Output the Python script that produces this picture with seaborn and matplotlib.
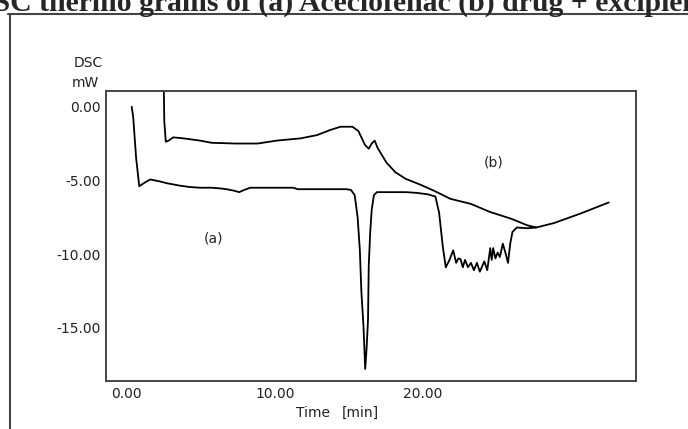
"""
DSC thermograms: (a) Aceclofenac, (b) drug + excipient.
"""
import numpy as np
import matplotlib
matplotlib.use("Agg")
import matplotlib.pyplot as plt
import matplotlib.transforms as mtransforms
from matplotlib.lines import Line2D
import seaborn as sns

# ── data ────────────────────────────────────────────────────────────────────
time_a = [0.0, 0.1, 0.3, 0.51, 0.8, 1.24, 1.8, 2.4, 3.2, 3.9,
          4.6, 5.4, 6.0, 6.4, 6.9, 7.25, 7.6, 8.0, 9.0, 10.9,
          11.2, 12.5, 13.5, 14.5, 14.8, 15.05, 15.25, 15.4, 15.5, 15.65,
          15.76, 15.85, 15.95, 16.0, 16.1, 16.2, 16.35, 16.55, 17.5, 18.5,
          19.25, 20.0, 20.5, 20.75, 21.0, 21.2, 21.45, 21.7, 21.9, 22.05,
          22.2, 22.35, 22.5, 22.7, 22.9, 23.1, 23.3, 23.5, 23.8, 24.0,
          24.2, 24.3, 24.4, 24.55, 24.7, 24.85, 25.05, 25.25, 25.4, 25.55,
          25.7, 26.0, 26.7, 27.3, 28.5, 30.3, 32.2]
dsc_a = [0.0, -0.7, -3.5, -5.4, -5.2, -4.94, -5.05, -5.2, -5.35, -5.45,
         -5.5, -5.5, -5.55, -5.6, -5.7, -5.8, -5.65, -5.5, -5.5, -5.5,
         -5.6, -5.6, -5.6, -5.6, -5.65, -6.0, -7.5, -9.75, -12.5, -15.0,
         -17.8, -16.5, -14.5, -10.8, -8.5, -7.0, -6.0, -5.8, -5.8, -5.8,
         -5.85, -5.95, -6.1, -7.2, -9.5, -10.9, -10.4, -9.75, -10.6, -10.3,
         -10.35, -10.9, -10.4, -10.9, -10.6, -11.1, -10.6, -11.2, -10.5, -11.1,
         -9.6, -10.4, -9.6, -10.3, -9.9, -10.2, -9.3, -10.0, -10.6, -9.3,
         -8.5, -8.2, -8.25, -8.2, -7.9, -7.25, -6.5]

time_b = [2.14, 2.2, 2.3, 2.5, 2.8, 3.5, 4.6, 5.4, 7.0, 8.5,
          9.8, 11.4, 12.5, 13.4, 14.1, 14.9, 15.3, 15.75, 16.0, 16.2,
          16.4, 16.6, 17.2, 17.8, 18.5, 19.5, 20.5, 21.5, 22.9, 24.2,
          25.6, 26.7, 27.3]
dsc_b = [3.0, -1.0, -2.38, -2.3, -2.08, -2.15, -2.3, -2.45, -2.5, -2.5,
         -2.3, -2.15, -1.93, -1.58, -1.36, -1.36, -1.65, -2.6, -2.85, -2.5,
         -2.3, -2.8, -3.8, -4.45, -4.9, -5.3, -5.75, -6.25, -6.6, -7.15,
         -7.6, -8.05, -8.2]

x_ticks = [0, 10, 20]
y_ticks = [0, -5, -10, -15]

sns.set_style("white")
plt.rcParams["font.family"] = ["DejaVu Sans"]
FS = 10

fig = plt.figure(figsize=(6.88, 4.29), dpi=100)
ax = fig.add_axes([106 / 688, 1 - 381 / 429, 530 / 688, 290 / 429])

sns.lineplot(x=time_a, y=dsc_a, sort=False, estimator=None, ax=ax,
             color="black", linewidth=1.3)
sns.lineplot(x=time_b, y=dsc_b, sort=False, estimator=None, ax=ax,
             color="black", linewidth=1.3)

ax.set_xlim(-1.735, 34.04)
ax.set_ylim(-18.62, 1.066)
ax.set_xticks(x_ticks)
ax.set_yticks(y_ticks)
ax.set_xticklabels([f"{v:.2f}" for v in x_ticks], fontsize=FS)
ax.set_yticklabels([f"{v:.2f}" for v in y_ticks], fontsize=FS)
ax.tick_params(direction="in", length=3, width=1, color="#333333", pad=4,
               labelcolor="#222222")
for sp in ax.spines.values():
    sp.set_color("#444444")
    sp.set_linewidth(1.4)

# x labels sit a little left of their ticks in the scan
shift = mtransforms.ScaledTranslation(-5 / 100, 0, fig.dpi_scale_trans)
for lab in ax.get_xticklabels():
    lab.set_transform(lab.get_transform() + shift)

# annotations
ax.text(-2.95, 2.97, "DSC", ha="center", va="center", fontsize=FS,
        color="#222222", clip_on=False)
ax.text(-3.15, 1.61, "mW", ha="center", va="center", fontsize=FS,
        color="#222222", clip_on=False)
ax.text(5.5, -8.95, "(a)", ha="center", va="center", fontsize=FS,
        color="#222222")
ax.text(24.4, -3.8, "(b)", ha="center", va="center", fontsize=FS,
        color="#222222")
fig.text(313 / 688, 1 - 413 / 429, "Time", ha="center", va="center",
         fontsize=FS, color="#222222")
fig.text(360 / 688, 1 - 413 / 429, "[min]", ha="center", va="center",
         fontsize=FS, color="#222222")

# outer frame of the scanned figure
fig.add_artist(Line2D([10 / 688, 10 / 688], [0, 1 - 14 / 429],
                      color="#444444", linewidth=1.5))
fig.add_artist(Line2D([8 / 688, 1], [1 - 14 / 429, 1 - 14 / 429],
                      color="#444444", linewidth=1.5))

# cut-off caption at the top
fig.text(-28 / 688, 1 - 11 / 429,
         "DSC thermo grams of (a) Aceclofenac (b) drug + excipient",
         ha="left", va="baseline", fontsize=21.4, fontweight="bold",
         family=["Liberation Serif", "DejaVu Serif"])

plt.savefig("out.png", dpi=100)
plt.close()
print("Saved → out.png")
